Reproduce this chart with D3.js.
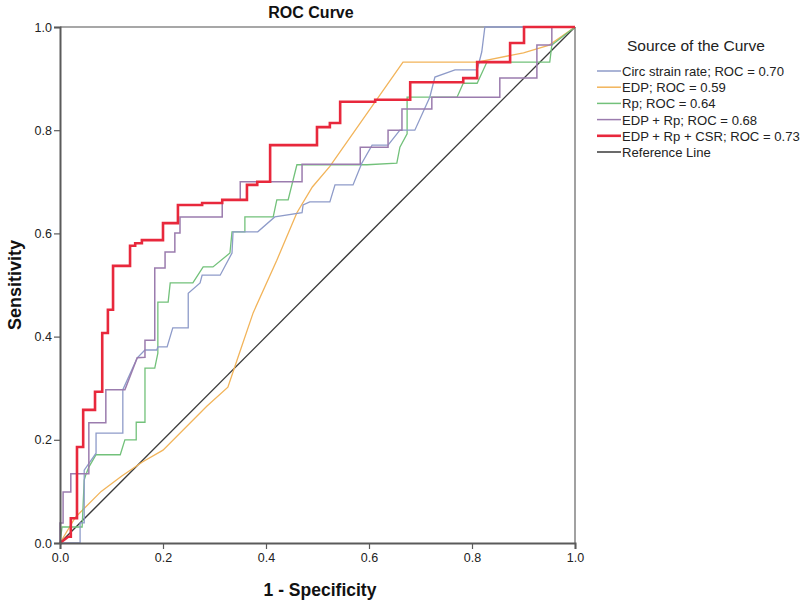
<!DOCTYPE html>
<html><head><meta charset="utf-8">
<script src="https://cdn.jsdelivr.net/npm/d3@7"></script>
<style>body{margin:0;background:#fff}svg{display:block;font-family:"Liberation Sans",Arial,sans-serif}</style>
</head><body><svg id="c" width="800" height="601"></svg>
<script>
const ticks = [0, 0.2, 0.4, 0.6, 0.8, 1.0];
const seriesNames = ["Circ strain rate; ROC = 0.70","EDP; ROC = 0.59","Rp; ROC = 0.64","EDP + Rp; ROC = 0.68","EDP + Rp + CSR; ROC = 0.73","Reference Line"];
const seriesColors = ["#8e9bc9","#f2b45a","#72c17a","#9b7cae","#e8283c","#3a3a3a"];
const seriesWidths = [1.3,1.3,1.3,1.5,2.6,1.4];

const circ = [[0,0],[.039,0],[.039,.039],[.047,.039],[.047,.141],[.070,.174],[.070,.213],[.122,.213],[.122,.297],[.150,.359],[.165,.374],[.188,.374],[.190,.380],[.208,.380],[.219,.417],[.249,.417],[.249,.484],[.272,.504],[.276,.519],[.311,.519],[.334,.562],[.336,.603],[.384,.603],[.417,.632],[.470,.640],[.472,.655],[.485,.661],[.524,.661],[.534,.694],[.569,.694],[.586,.736],[.606,.771],[.637,.771],[.660,.800],[.689,.800],[.718,.864],[.728,.903],[.767,.917],[.810,.917],[.819,.952],[.825,1],[1,1]];
const edp = [[0,0],[.03,.05],[.08,.1],[.12,.13],[.16,.157],[.2,.18],[.285,.265],[.326,.302],[.344,.355],[.375,.446],[.421,.548],[.46,.64],[.49,.69],[.524,.73],[.666,.932],[.81,.932],[.9,.95],[.95,.965],[1,1]];
const rp = [[0,0],[.004,.031],[.043,.031],[.047,.122],[.050,.132],[.056,.147],[.070,.171],[.117,.171],[.126,.200],[.148,.200],[.148,.234],[.165,.234],[.165,.339],[.184,.339],[.190,.368],[.190,.467],[.210,.467],[.214,.504],[.258,.504],[.278,.535],[.297,.535],[.330,.562],[.334,.603],[.359,.603],[.359,.632],[.414,.632],[.421,.665],[.443,.665],[.460,.733],[.596,.733],[.654,.736],[.660,.767],[.674,.793],[.674,.864],[.771,.864],[.783,.891],[.810,.891],[.829,.932],[.951,.932],[.955,.965],[1,1]];
const edpRp = [[0,0],[0,.039],[.006,.039],[.006,.099],[.021,.099],[.021,.134],[.056,.134],[.056,.233],[.089,.233],[.089,.297],[.126,.297],[.150,.359],[.165,.360],[.165,.393],[.184,.393],[.184,.533],[.204,.533],[.204,.564],[.223,.564],[.223,.601],[.233,.601],[.233,.632],[.315,.632],[.315,.665],[.350,.665],[.350,.700],[.470,.700],[.470,.734],[.583,.734],[.583,.767],[.637,.767],[.637,.800],[.664,.800],[.664,.841],[.722,.841],[.722,.864],[.854,.864],[.854,.901],[.926,.901],[.926,.965],[.955,.965],[.955,1],[1,1]];
const edpRpCsr = [[0,0],[.016,.012],[.021,.012],[.021,.048],[.033,.048],[.033,.186],[.045,.186],[.045,.258],[.068,.258],[.068,.293],[.082,.293],[.082,.407],[.093,.407],[.093,.452],[.103,.452],[.103,.537],[.136,.537],[.136,.576],[.146,.576],[.146,.581],[.159,.581],[.159,.587],[.2,.587],[.2,.620],[.229,.620],[.229,.655],[.276,.655],[.276,.659],[.315,.659],[.315,.665],[.363,.665],[.363,.694],[.383,.694],[.383,.700],[.408,.700],[.408,.771],[.499,.771],[.499,.806],[.524,.806],[.524,.814],[.544,.814],[.544,.855],[.612,.855],[.612,.859],[.680,.859],[.680,.893],[.783,.893],[.783,.901],[.810,.901],[.810,.932],[.874,.932],[.874,.969],[.901,.969],[.901,1],[1,1]];
const refLine = [[0,0],[1,1]];
const seriesData = [circ, edp, rp, edpRp, edpRpCsr, refLine];
const drawOrder = [5,1,2,0,3,4];

const svg = d3.select("#c");
const x = d3.scaleLinear().domain([0,1]).range([60,575]);
const y = d3.scaleLinear().domain([0,1]).range([543,27]);

svg.append("line").attr("x1",x(0)).attr("x2",x(1)).attr("y1",y(1)).attr("y2",y(1)).attr("stroke","#8a8a8a").attr("stroke-width",1.6);
svg.append("line").attr("x1",x(1)).attr("x2",x(1)).attr("y1",y(0)).attr("y2",y(1)).attr("stroke","#8a8a8a").attr("stroke-width",1.6);

const line = d3.line().x(d=>x(d[0])).y(d=>y(d[1]));
const g = svg.append("g");
drawOrder.forEach(i=>{
  g.append("path").datum(seriesData[i]).attr("d",line).attr("fill","none")
   .attr("stroke",seriesColors[i]).attr("stroke-width",seriesWidths[i]).attr("stroke-linejoin","miter");
});

const fmt = d3.format(".1f");
const xa = svg.append("g").attr("transform",`translate(0,${y(0)})`)
  .call(d3.axisBottom(x).tickValues(ticks).tickFormat(fmt).tickSize(6).tickPadding(4));
const ya = svg.append("g").attr("transform",`translate(${x(0)},0)`)
  .call(d3.axisLeft(y).tickValues(ticks).tickFormat(fmt).tickSize(6).tickPadding(2));
[xa,ya].forEach(a=>{
  a.select(".domain").attr("stroke","#5a5a5a").attr("stroke-width",2);
  a.selectAll(".tick line").attr("stroke","#5a5a5a").attr("stroke-width",1.2);
  a.selectAll(".tick text").attr("font-size",12.5).attr("fill","#222").attr("font-family","Liberation Sans, Arial, sans-serif");
});

svg.append("text").attr("x",311).attr("y",18).attr("text-anchor","middle").attr("font-weight","bold").attr("font-size",16).attr("fill","#111").text("ROC Curve");
svg.append("text").attr("x",320).attr("y",596).attr("text-anchor","middle").attr("font-weight","bold").attr("font-size",17.5).attr("fill","#111").text("1 - Specificity");
svg.append("text").attr("transform","translate(21,285) rotate(-90)").attr("text-anchor","middle").attr("font-weight","bold").attr("font-size",18).attr("fill","#111").text("Sensitivity");

svg.append("text").attr("x",627).attr("y",51).attr("font-size",15.5).attr("fill","#222").text("Source of the Curve");
const lg = svg.append("g");
seriesNames.forEach((n,i)=>{
  const yy = 71 + i*16.2;
  lg.append("line").attr("x1",597).attr("x2",621).attr("y1",yy).attr("y2",yy).attr("stroke",seriesColors[i]).attr("stroke-width",i===4?2.6:1.5);
  lg.append("text").attr("x",622).attr("y",yy+5).attr("font-size",13.1).attr("fill","#222").text(n);
});
</script></body></html>
